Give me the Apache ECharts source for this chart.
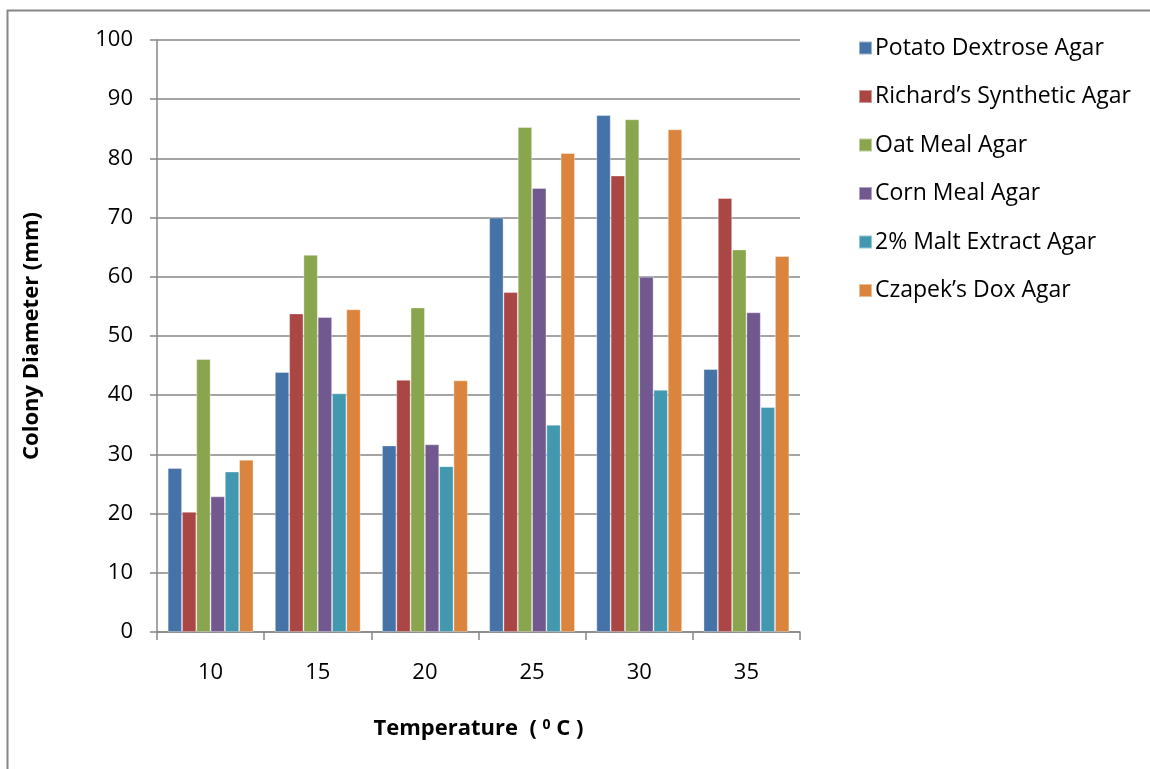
<!DOCTYPE html>
<html>
<head>
<meta charset="utf-8">
<script src="https://cdn.jsdelivr.net/npm/echarts@6/dist/echarts.min.js"></script>
<style>
  html, body { margin: 0; padding: 0; background: #fff; }
  #chart { width: 1150px; height: 769px; }
</style>
</head>
<body>
<div id="chart"></div>
<script>
// Colony diameter (mm) of the fungus on six media at six temperatures
const temperatures = ['10', '15', '20', '25', '30', '35'];
const yTicks = [0, 10, 20, 30, 40, 50, 60, 70, 80, 90, 100];

const potatoDextrose   = [27.7, 43.9, 31.5, 70.0, 87.3, 44.4];
const richardsSynth    = [20.3, 53.8, 42.6, 57.4, 77.1, 73.3];
const oatMeal          = [46.1, 63.7, 54.8, 85.3, 86.6, 64.6];
const cornMeal         = [22.9, 53.2, 31.7, 75.0, 60.0, 54.0];
const maltExtract      = [27.1, 40.3, 28.0, 35.0, 40.9, 38.0];
const czapekDox        = [29.1, 54.5, 42.5, 80.9, 84.9, 63.5];

const seriesNames = ['Potato Dextrose Agar', 'Richard\u2019s Synthetic Agar', 'Oat Meal Agar',
                     'Corn Meal Agar', '2% Malt Extract Agar', 'Czapek\u2019s Dox Agar'];
const seriesData = [potatoDextrose, richardsSynth, oatMeal, cornMeal, maltExtract, czapekDox];
const colors = ['#4572A7', '#AA4643', '#89A54E', '#71588F', '#4198AF', '#DB843D'];

const FONT = '"Open Sans", "Noto Sans", sans-serif';
const chart = echarts.init(document.getElementById('chart'));

chart.setOption({
  animation: false,
  backgroundColor: '#fff',
  color: colors,
  textStyle: { fontFamily: FONT, color: '#000' },
  graphic: [{
    type: 'rect',
    shape: { x: 7.5, y: 10.5, width: 1160, height: 800 },
    style: { fill: 'none', stroke: '#868686', lineWidth: 2 },
    silent: true
  }],
  grid: { left: 157, right: 350, top: 40, bottom: 137, containLabel: false },
  legend: {
    orient: 'vertical',
    left: 853,
    top: 28,
    itemWidth: 13,
    itemHeight: 13,
    itemGap: 18.5,
    icon: 'rect',
    textStyle: { fontSize: 23, fontFamily: FONT, color: '#000', lineHeight: 30, padding: [0, 0, 0, -2] },
    data: seriesNames
  },
  xAxis: {
    type: 'category',
    data: temperatures,
    boundaryGap: true,
    name: '{t|Temperature  ( }{s|0}{t| C )}',
    nameLocation: 'middle',
    nameGap: 86,
    nameTextStyle: {
      rich: {
        t: { fontSize: 22, fontWeight: 'bold', fontFamily: FONT, color: '#000' },
        s: { fontSize: 14, fontWeight: 'bold', fontFamily: FONT, color: '#000', verticalAlign: 'top', padding: [0, 0, 8, 0] }
      }
    },
    axisLine: { show: true, lineStyle: { color: '#868686', width: 1.5 } },
    axisTick: { show: true, alignWithLabel: false, length: 8, inside: false, lineStyle: { color: '#868686', width: 1.5 } },
    axisLabel: { fontSize: 22, color: '#000', margin: 30, fontFamily: FONT },
    splitLine: { show: false }
  },
  yAxis: {
    type: 'value',
    min: 0,
    max: 100,
    interval: 10,
    name: 'Colony Diameter (mm)',
    nameLocation: 'middle',
    nameGap: 114,
    nameRotate: 90,
    nameTextStyle: { fontSize: 22, fontWeight: 'bold', color: '#000', fontFamily: FONT },
    axisLine: { show: true, lineStyle: { color: '#868686', width: 1.5 } },
    axisTick: { show: true, length: 7, lineStyle: { color: '#868686', width: 1.5 } },
    axisLabel: {
      fontSize: 22, color: '#000', margin: 24, fontFamily: FONT,
      formatter: v => (yTicks.includes(v) ? String(v) : '')
    },
    splitLine: { show: true, lineStyle: { color: '#868686', width: 1.5 } }
  },
  series: seriesData.map((d, i) => ({
    name: seriesNames[i],
    type: 'bar',
    data: d,
    barGap: '0%',
    barCategoryGap: '20%',
    itemStyle: { color: colors[i], borderColor: 'rgba(255,255,255,0.45)', borderWidth: 0.8 }
  }))
});
</script>
</body>
</html>
